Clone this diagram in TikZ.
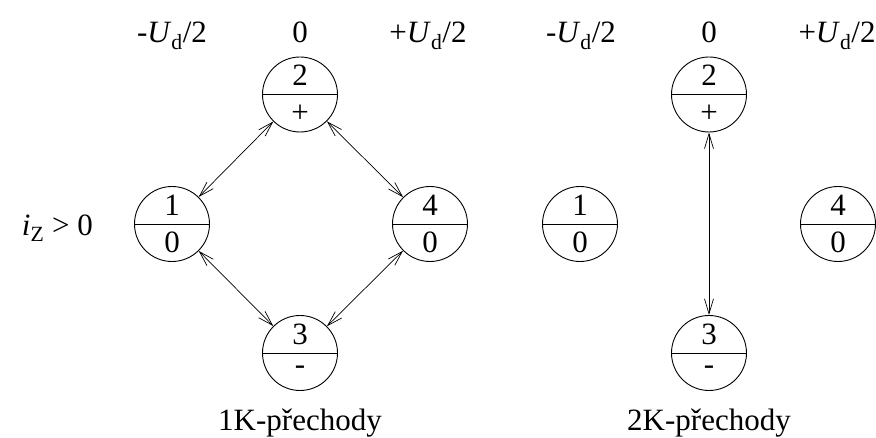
\documentclass[tikz,border=0pt]{standalone}
\usepackage{fontspec}
\setmainfont{Liberation Serif}
\usetikzlibrary{arrows.meta}
\tikzset{
  state/.style={draw, circle, minimum size=75pt, inner sep=0pt, line width=0.9pt},
  lbl/.style={font=\fontsize{31}{33}\selectfont, inner sep=0pt},
  conn/.style={line width=0.7pt, {Straight Barb[length=15pt,width=9pt,line width=0.7pt]}-{Straight Barb[length=15pt,width=9pt,line width=0.7pt]}}
}
\newcommand{\Ud}{\textit{U}\textsubscript{d}}
\newcommand{\mystate}[5]{%
  \node[state] (#1) at (#2) {};
  \draw[line width=0.9pt] (#1.west) -- (#1.east);
  \node[lbl, anchor=base] (#1t) at ([yshift=8.5pt]#1.center) {#3};
  \node[lbl, anchor=base] (#1b) at ([yshift=-#5pt]#1.center) {#4};
}
\begin{document}
\begin{tikzpicture}[x=1pt,y=-1pt]
\useasboundingbox (0,0) rectangle (876,438);
% column headings
\node[lbl, anchor=base] (ha) at (172,43) {-\Ud/2};
\node[lbl, anchor=base] (hb) at (300,43) {0};
\node[lbl, anchor=base] (hc) at (428,43) {+\Ud/2};
\node[lbl, anchor=base] (hd) at (581,43) {-\Ud/2};
\node[lbl, anchor=base] (he) at (709,43) {0};
\node[lbl, anchor=base] (hf) at (837,43) {+\Ud/2};
\node[lbl, anchor=base east] (iz) at (93,236) {\textit{i}\textsubscript{Z} > 0};
% left diagram
\mystate{Ltwo}{300,94.5}{2}{+}{28}
\mystate{Lone}{172,224}{1}{0}{29}
\mystate{Lfour}{430,224}{4}{0}{29}
\mystate{Lthree}{300,353}{3}{-}{21}
\draw[conn] (Ltwo) -- (Lone);
\draw[conn] (Ltwo) -- (Lfour);
\draw[conn] (Lone) -- (Lthree);
\draw[conn] (Lfour) -- (Lthree);
% right diagram
\mystate{Rtwo}{709,94.5}{2}{+}{28}
\mystate{Rone}{580,224}{1}{0}{29}
\mystate{Rfour}{838,224}{4}{0}{29}
\mystate{Rthree}{709,353}{3}{-}{21}
\draw[conn] (Rtwo) -- (Rthree);
% captions
\node[lbl, anchor=base] (cap1) at (300,431) {1K-přechody};
\node[lbl, anchor=base] (cap2) at (709,431) {2K-přechody};
\end{tikzpicture}
\end{document}
